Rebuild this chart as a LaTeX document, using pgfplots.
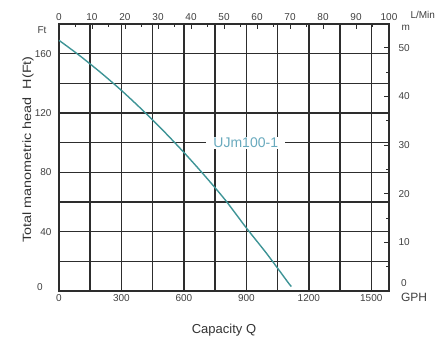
\documentclass[border=0pt]{standalone}
\usepackage{fontspec}
\setmainfont{Liberation Sans}
\usepackage{pgfplots}
\pgfplotsset{compat=1.18}
\definecolor{curvecol}{RGB}{62,148,150}
\definecolor{lblcol}{RGB}{105,170,190}
\definecolor{gridcol}{RGB}{45,45,45}
\begin{document}
\begin{tikzpicture}
\path[use as bounding box] (-59pt,-50pt) rectangle (384pt,291pt);
\begin{axis}[
  at={(0pt,0pt)}, anchor=south west, scale only axis,
  width=330pt, height=267pt,
  xmin=0, xmax=1585, ymin=0, ymax=180,
  xtick={0,300,...,1500}, minor xtick={150,450,...,1350},
  ytick={40,80,...,160}, minor ytick={20,60,...,140},
  grid=both,
  major grid style={gridcol, line width=1.5pt},
  minor grid style={gridcol, line width=1.5pt},
  axis line style={gridcol, line width=1.5pt},
  major tick length=0pt, minor tick length=0pt,
  tick label style={font=\fontsize{10}{11}\selectfont, text=black!75},
  /pgf/number format/assume math mode=true,
  /pgf/number format/1000 sep={},
  yticklabel style={xshift=-4pt},
  clip=false,
]
\addplot[curvecol, line width=1.4pt, smooth] coordinates {
  (0,169) (100,158.6) (200,147.3) (300,135.2) (400,122.1) (500,108.2) (600,93.4)
  (700,77.7) (800,61.1) (900,42.5) (1000,24.8) (1100,5.8) (1116,3)
};
\node[fill=white, text=lblcol, font=\fontsize{14}{14}\selectfont, inner xsep=7pt, inner ysep=1pt] at (axis cs:897,100) {UJm100-1};
\node[anchor=east, font=\fontsize{10}{11}\selectfont, text=black!75] at (rel axis cs:0,1) [xshift=-9pt, yshift=-6pt] {Ft};
\node[font=\fontsize{10}{11}\selectfont, text=black!75] at (rel axis cs:0,0) [xshift=-19pt, yshift=4pt] {0};
\node[xshift=-31pt, yshift=8pt, rotate=90, font=\fontsize{12}{13}\selectfont, text=black!80] at (rel axis cs:0,0.5) {\scalebox{1.2}[1]{Total manometric head\ \ H(Ft)}};
\node[font=\fontsize{13}{14}\selectfont, text=black!80] at (rel axis cs:0.5,0) [yshift=-39pt] {Capacity Q};
\end{axis}
\begin{axis}[
  at={(0pt,0pt)}, anchor=south west, scale only axis,
  width=330pt, height=267pt,
  xmin=0, xmax=100, ymin=0, ymax=54.864,
  axis x line*=top, axis y line*=right,
  xtick={0,10,...,100}, minor xtick={5,15,...,95},
  ytick={10,20,...,50}, minor ytick={5,15,...,45},
  tick align=inside,
  major tick length=5pt, minor tick length=3pt,
  tick style={gridcol, line width=1pt},
  axis line style={gridcol, line width=1.5pt},
  tick label style={font=\fontsize{10}{11}\selectfont, text=black!75},
  /pgf/number format/assume math mode=true,
  yticklabel style={xshift=6pt},
  clip=false,
]
\node[anchor=west, font=\fontsize{10}{11}\selectfont, text=black!75] at (rel axis cs:1,1) [xshift=18pt, yshift=9pt] {L/Min};
\node[anchor=west, font=\fontsize{10}{11}\selectfont, text=black!75] at (rel axis cs:1,1) [xshift=9pt, yshift=-4pt] {m};
\node[font=\fontsize{10}{11}\selectfont, text=black!75] at (rel axis cs:1,0) [xshift=15pt, yshift=8pt] {0};
\node[font=\fontsize{12}{13}\selectfont, text=black!75] at (rel axis cs:1,0) [xshift=25pt, yshift=-6pt] {GPH};
\end{axis}
\end{tikzpicture}
\end{document}
